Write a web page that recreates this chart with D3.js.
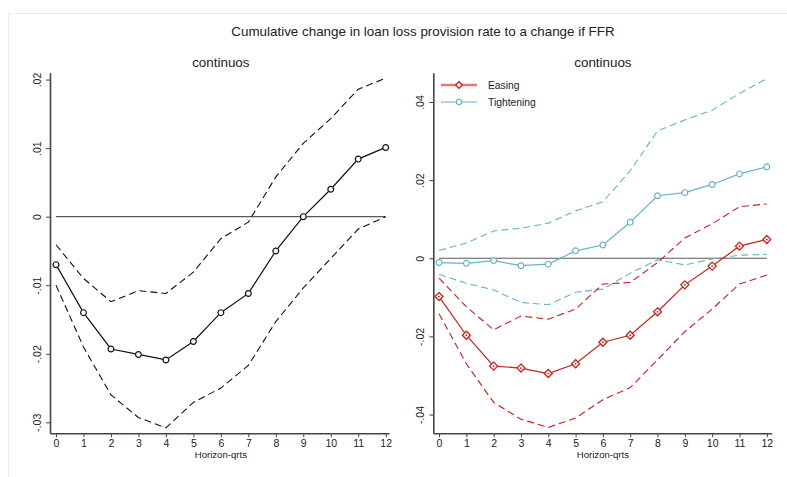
<!DOCTYPE html>
<html>
<head>
<meta charset="utf-8">
<script src="https://cdn.jsdelivr.net/npm/d3@7"></script>
<style>
  html, body { margin: 0; padding: 0; background: #fff; }
  svg { display: block; font-family: "Liberation Sans", Arial, sans-serif; }
</style>
</head>
<body>
<svg id="chart" width="787" height="477"></svg>
<script>
// Horizon (quarters)
const horizons = [0, 1, 2, 3, 4, 5, 6, 7, 8, 9, 10, 11, 12];

// Left panel: continuous response with confidence band
const contMid   = [-0.0070, -0.0140, -0.0193, -0.0201, -0.0209, -0.0182, -0.0140, -0.0112, -0.0050, 0.0000, 0.0040, 0.0084, 0.0101];
const contUpper = [-0.0041, -0.0090, -0.0124, -0.0108, -0.0112, -0.0081, -0.0032, -0.0008, 0.0058, 0.0107, 0.0143, 0.0186, 0.0202];
const contLower = [-0.0100, -0.0190, -0.0260, -0.0293, -0.0308, -0.0271, -0.0250, -0.0217, -0.0153, -0.0104, -0.0061, -0.0018, 0.0000];

// Right panel: easing vs tightening responses with bands
const easeMid   = [-0.0098, -0.0197, -0.0276, -0.0281, -0.0295, -0.0270, -0.0215, -0.0197, -0.0137, -0.0068, -0.0020, 0.0031, 0.0048];
const easeUpper = [-0.0051, -0.0124, -0.0183, -0.0148, -0.0156, -0.0130, -0.0066, -0.0062, -0.0011, 0.0052, 0.0088, 0.0132, 0.0139];
const easeLower = [-0.0142, -0.0270, -0.0369, -0.0412, -0.0433, -0.0409, -0.0362, -0.0331, -0.0260, -0.0188, -0.0130, -0.0066, -0.0043];
const tightMid   = [-0.0011, -0.0013, -0.0006, -0.0019, -0.0015, 0.0019, 0.0034, 0.0092, 0.0160, 0.0168, 0.0189, 0.0216, 0.0234];
const tightUpper = [0.0020, 0.0039, 0.0070, 0.0077, 0.0090, 0.0121, 0.0145, 0.0224, 0.0326, 0.0354, 0.0379, 0.0422, 0.0460];
const tightLower = [-0.0041, -0.0064, -0.0081, -0.0113, -0.0119, -0.0087, -0.0079, -0.0038, -0.0004, -0.0017, -0.0002, 0.0008, 0.0010];

// Tick values / labels
const leftTicks  = [-0.03, -0.02, -0.01, 0, 0.01, 0.02];
const leftLabels = ["-.03", "-.02", "-.01", "0", ".01", ".02"];
const rightTicks  = [-0.04, -0.02, 0, 0.02, 0.04];
const rightLabels = ["-.04", "-.02", "0", ".02", ".04"];
const seriesNames = ["Easing", "Tightening"];

const mainTitle = "Cumulative change in loan loss provision rate to a change if FFR";
const panelTitle = "continuos";
const xTitle = "Horizon-qrts";

const RED = "#c5221b";
const RED_LIGHT = "#df7b72";
const TEAL = "#62b5c4";

const svg = d3.select("#chart");

// faint outer frame
svg.append("rect")
  .attr("x", 8.5).attr("y", 13.5)
  .attr("width", 790).attr("height", 480)
  .attr("fill", "#fff").attr("stroke", "#ececec");

svg.append("text")
  .attr("x", 423).attr("y", 36)
  .attr("text-anchor", "middle")
  .attr("font-size", 13.4)
  .attr("fill", "#222")
  .text(mainTitle);

function drawPanel(cfg) {
  const g = svg.append("g");
  // plot region runs a little past the first and last horizon
  const x = d3.scaleLinear().domain(cfg.xDomain).range(cfg.xRange);
  const y = d3.scaleLinear().domain(cfg.yDomain).range([72.7, 433.3]);

  g.append("text")
    .attr("x", (x(0) + x(12)) / 2).attr("y", 67)
    .attr("text-anchor", "middle")
    .attr("font-size", 13.4)
    .attr("fill", "#222")
    .text(panelTitle);

  // zero reference line
  g.append("line")
    .attr("x1", x(0)).attr("x2", x(12))
    .attr("y1", y(0)).attr("y2", y(0))
    .attr("stroke", "#5a5a5a").attr("stroke-width", 1.2);

  // y axis
  const yAxis = d3.axisLeft(y)
    .tickValues(cfg.yTicks)
    .tickFormat((d, i) => cfg.yLabels[i])
    .tickSize(4).tickSizeOuter(0);
  const ya = g.append("g")
    .attr("transform", `translate(${cfg.xRange[0]},0)`)
    .call(yAxis);
  ya.select(".domain").attr("stroke", "#444").attr("stroke-width", 1.6);
  ya.selectAll(".tick line").attr("stroke", "#444").attr("stroke-width", 1);
  ya.selectAll(".tick text")
    .attr("font-size", 10.5)
    .attr("fill", "#222")
    .attr("font-family", "Liberation Sans, Arial, sans-serif")
    .attr("transform", "rotate(-90)")
    .attr("x", 0).attr("y", -9)
    .attr("dy", 0)
    .attr("text-anchor", "middle");

  // x axis
  const xAxis = d3.axisBottom(x)
    .tickValues(horizons)
    .tickFormat(d3.format("d"))
    .tickSize(4).tickSizeOuter(0);
  const xa = g.append("g")
    .attr("transform", `translate(0,433.3)`)
    .call(xAxis);
  xa.select(".domain").attr("stroke", "#444").attr("stroke-width", 1.6);
  xa.selectAll(".tick line").attr("stroke", "#444").attr("stroke-width", 1);
  xa.selectAll(".tick text")
    .attr("font-size", 10.5)
    .attr("fill", "#222")
    .attr("font-family", "Liberation Sans, Arial, sans-serif")
    .attr("y", 6);

  g.append("text")
    .attr("x", (x(0) + x(12)) / 2).attr("y", 458)
    .attr("text-anchor", "middle")
    .attr("font-size", 9.6)
    .attr("fill", "#222")
    .text(xTitle);

  const line = d3.line().x((d, i) => x(horizons[i])).y(d => y(d));

  cfg.series.forEach(s => {
    [s.upper, s.lower].forEach(band => {
      g.append("path")
        .attr("d", line(band))
        .attr("fill", "none")
        .attr("stroke", s.color)
        .attr("stroke-width", 1.1)
        .attr("stroke-dasharray", "7,4");
    });
  });
  cfg.series.forEach(s => {
    g.append("path")
      .attr("d", line(s.mid))
      .attr("fill", "none")
      .attr("stroke", s.color)
      .attr("stroke-width", 1.2);
    const pts = g.append("g").selectAll("g")
      .data(s.mid).join("g")
      .attr("transform", (d, i) => `translate(${x(horizons[i])},${y(d)})`);
    if (s.marker === "diamond") {
      pts.append("path")
        .attr("d", "M0,-4L4,0L0,4L-4,0Z")
        .attr("fill", "#fff").attr("stroke", s.color).attr("stroke-width", 1.3);
      pts.append("circle").attr("r", 0.9).attr("fill", s.color);
    } else {
      pts.append("circle")
        .attr("r", 2.9)
        .attr("fill", "#fff").attr("stroke", s.color).attr("stroke-width", 1.2);
    }
  });
  return { x, y };
}

drawPanel({
  xDomain: [-0.218, 12.12], xRange: [50, 389],
  yDomain: [0.0210, -0.0316],
  yTicks: leftTicks, yLabels: leftLabels,
  series: [{ mid: contMid, upper: contUpper, lower: contLower, color: "#111", marker: "circle" }]
});

drawPanel({
  xDomain: [-0.21, 12.18], xRange: [433.3, 771.7],
  yDomain: [0.0475, -0.0448],
  yTicks: rightTicks, yLabels: rightLabels,
  series: [
    { mid: tightMid, upper: tightUpper, lower: tightLower, color: TEAL, marker: "circle" },
    { mid: easeMid, upper: easeUpper, lower: easeLower, color: RED, marker: "diamond" }
  ]
});

// legend
const legend = svg.append("g");
const legendItems = [
  { name: seriesNames[0], color: RED_LIGHT, mcolor: RED, width: 2.6, marker: "diamond", y: 85 },
  { name: seriesNames[1], color: TEAL, mcolor: TEAL, width: 1.2, marker: "circle", y: 102 }
];
legendItems.forEach(it => {
  legend.append("line")
    .attr("x1", 441).attr("x2", 477).attr("y1", it.y).attr("y2", it.y)
    .attr("stroke", it.color).attr("stroke-width", it.width);
  if (it.marker === "diamond") {
    legend.append("path")
      .attr("transform", `translate(459,${it.y})`)
      .attr("d", "M0,-3.3L3.3,0L0,3.3L-3.3,0Z")
      .attr("fill", "#fff").attr("stroke", it.mcolor).attr("stroke-width", 1.3);
  } else {
    legend.append("circle")
      .attr("cx", 459).attr("cy", it.y).attr("r", 2.6)
      .attr("fill", "#fff").attr("stroke", it.mcolor).attr("stroke-width", 1.1);
  }
  legend.append("text")
    .attr("x", 488).attr("y", it.y + 3.6)
    .attr("font-size", 10.3).attr("fill", "#222")
    .text(it.name);
});
</script>
</body>
</html>
